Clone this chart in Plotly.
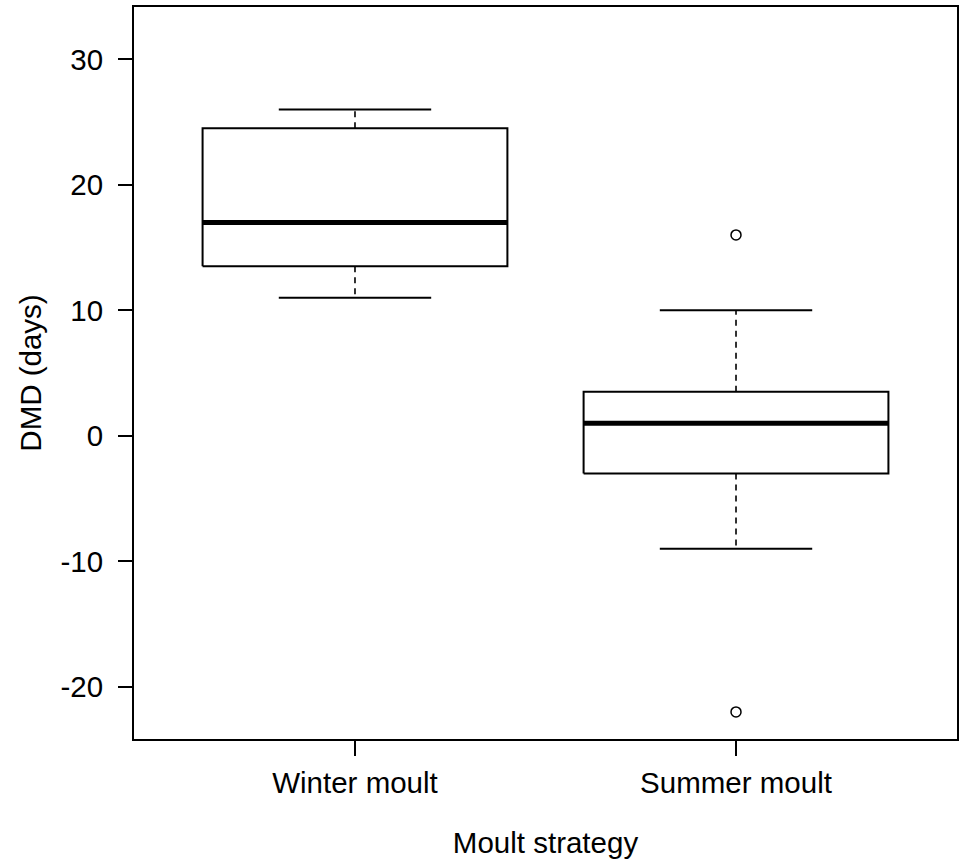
import plotly.graph_objects as go

categories = ["Winter moult", "Summer moult"]
lower_whisker = [11, -9]
q1 = [13.5, -3]
median = [17, 1]
q3 = [24.5, 3.5]
upper_whisker = [26, 10]
outlier_group = [1, 1]          # index into categories
outlier_values = [16, -22]
y_ticks = [-20, -10, 0, 10, 20, 30]
y_tick_labels = [str(v) for v in y_ticks]

BOX_W = 0.8
CAP_W = 0.4
LC = "black"

fig = go.Figure()
for i, cat in enumerate(categories):
    p = i + 1
    l, r = p - BOX_W / 2, p + BOX_W / 2
    cl, cr = p - CAP_W / 2, p + CAP_W / 2
    # whiskers (dashed)
    fig.add_trace(go.Scatter(x=[p, p, None, p, p],
                             y=[q3[i], upper_whisker[i], None, q1[i], lower_whisker[i]],
                             mode="lines", line=dict(color=LC, width=1.6, dash="6px,5px"),
                             showlegend=False, hoverinfo="skip"))
    # caps
    fig.add_trace(go.Scatter(x=[cl, cr, None, cl, cr],
                             y=[upper_whisker[i], upper_whisker[i], None, lower_whisker[i], lower_whisker[i]],
                             mode="lines", line=dict(color=LC, width=2),
                             showlegend=False, hoverinfo="skip"))
    # box
    fig.add_trace(go.Scatter(x=[l, r, r, l, l],
                             y=[q1[i], q1[i], q3[i], q3[i], q1[i]],
                             mode="lines", line=dict(color=LC, width=2),
                             fill="toself", fillcolor="white",
                             showlegend=False, name=cat))
    # median
    fig.add_trace(go.Scatter(x=[l, r], y=[median[i], median[i]],
                             mode="lines", line=dict(color=LC, width=5),
                             showlegend=False, hoverinfo="skip"))

fig.add_trace(go.Scatter(x=[g + 1 for g in outlier_group], y=outlier_values,
                         mode="markers",
                         marker=dict(symbol="circle-open", size=10, color=LC, line=dict(width=1.5)),
                         showlegend=False))

font = dict(family="Liberation Sans, Arial, sans-serif", size=29.5, color="black")

fig.update_layout(
    width=959, height=863, autosize=False,
    margin=dict(l=134, r=2, t=7, b=124, autoexpand=False),
    paper_bgcolor="white", plot_bgcolor="white",
    font=font,
    xaxis=dict(range=[0.42, 2.58], tickvals=[1, 2], ticktext=categories,
               ticks="outside", ticklen=15, tickwidth=2, tickcolor=LC,
               showline=True, mirror=True, linewidth=2, linecolor=LC,
               showgrid=False, zeroline=False, ticklabelstandoff=2,
               title=dict(text="Moult strategy", standoff=34, font=font)),
    yaxis=dict(range=[-24.16, 34.16], tickvals=y_ticks, ticktext=y_tick_labels,
               ticks="outside", ticklen=14, tickwidth=2, tickcolor=LC,
               showline=True, mirror=True, linewidth=2, linecolor=LC,
               showgrid=False, zeroline=False, ticklabelstandoff=9,
               title=dict(text="DMD (days)", standoff=10, font=font)),
)

fig.write_html("out.html",
               config={"displayModeBar": False, "responsive": False},
               post_script="document.documentElement.style.overflow='hidden';document.body.style.margin='0';document.body.style.overflow='hidden';")
